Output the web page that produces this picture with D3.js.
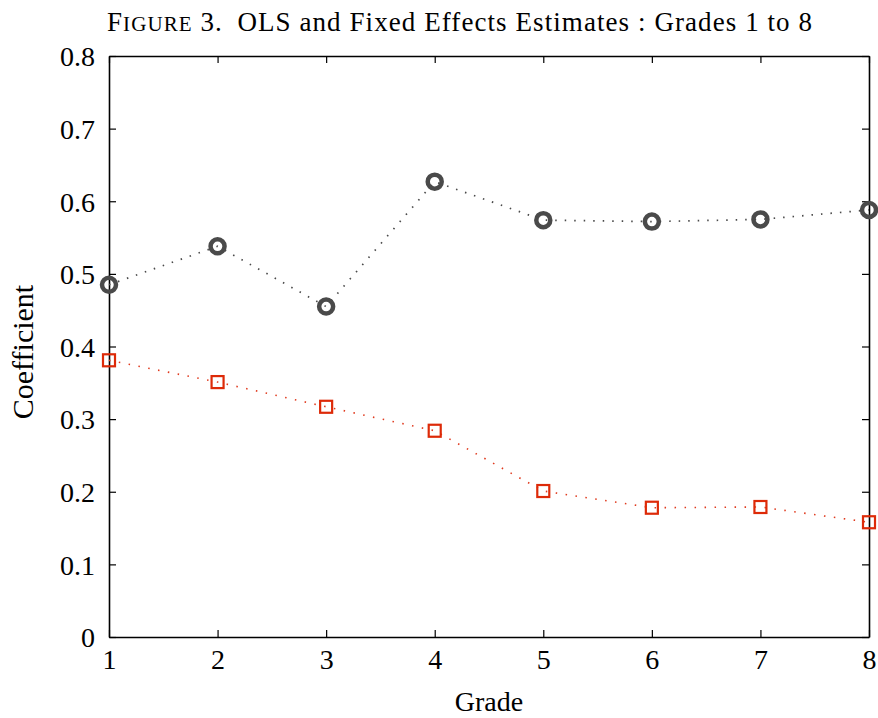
<!DOCTYPE html>
<html>
<head>
<meta charset="utf-8">
<script src="https://cdn.jsdelivr.net/npm/d3@7/dist/d3.min.js"></script>
<style>
  html, body { margin: 0; padding: 0; background: #fff; }
  text { font-family: "Liberation Serif", "Times New Roman", serif; fill: #000; }
</style>
</head>
<body>
<script>
const grades = [1, 2, 3, 4, 5, 6, 7, 8];
const olsValues = [0.485, 0.538, 0.455, 0.627, 0.574, 0.572, 0.575, 0.588];
const feValues = [0.381, 0.351, 0.317, 0.284, 0.201, 0.178, 0.179, 0.158];
const yTicks = [0, 0.1, 0.2, 0.3, 0.4, 0.5, 0.6, 0.7, 0.8];
const xTicks = [1, 2, 3, 4, 5, 6, 7, 8];

const W = 878, H = 718;
const m = { left: 109, right: 878 - 869, top: 56, bottom: 718 - 637 };

const svg = d3.select("body").append("svg").attr("width", W).attr("height", H);

const x = d3.scaleLinear().domain([1, 8]).range([m.left, W - m.right]);
const y = d3.scaleLinear().domain([0, 0.8]).range([H - m.bottom, m.top]);

const tickLen = 7;
const g = svg.append("g");

const xAxisB = d3.axisBottom(x).tickValues(xTicks).tickFormat(d3.format("d")).tickSizeInner(-tickLen).tickSizeOuter(0).tickPadding(12);
const xAxisT = d3.axisTop(x).tickValues(xTicks).tickFormat("").tickSizeInner(-tickLen).tickSizeOuter(0);
const yAxisL = d3.axisLeft(y).tickValues(yTicks).tickFormat(d => d === 0 ? "0" : d3.format(".1f")(d)).tickSizeInner(-tickLen).tickSizeOuter(0).tickPadding(14);
const yAxisR = d3.axisRight(y).tickValues(yTicks).tickFormat("").tickSizeInner(-tickLen).tickSizeOuter(0);

function style(sel) {
  sel.selectAll("path.domain").attr("stroke", "#000").attr("stroke-width", 1.6);
  sel.selectAll(".tick line").attr("stroke", "#000").attr("stroke-width", 1.2);
  sel.selectAll(".tick text").attr("font-family", "'Liberation Serif', serif").attr("font-size", 28).attr("fill", "#000");
}

g.append("g").attr("transform", `translate(0,${y(0)})`).call(xAxisB).call(style)
  .selectAll(".tick text").attr("dy", "0.71em");
g.append("g").attr("transform", `translate(0,${y(0.8)})`).call(xAxisT).call(style);
g.append("g").attr("transform", `translate(${x(1)},0)`).call(yAxisL).call(style)
  .selectAll(".tick text").attr("dy", "0.35em");
g.append("g").attr("transform", `translate(${x(8)},0)`).call(yAxisR).call(style);

const line = d3.line().x((d, i) => x(grades[i])).y(d => y(d));

svg.append("path").datum(olsValues).attr("d", line)
  .attr("fill", "none").attr("stroke", "#4a4a4a").attr("stroke-width", 1.7)
  .attr("stroke-dasharray", "1.5,8");
svg.append("path").datum(feValues).attr("d", line)
  .attr("fill", "none").attr("stroke", "#e03a1e").attr("stroke-width", 1.6)
  .attr("stroke-dasharray", "1.5,8.5");

svg.append("g").selectAll("circle").data(olsValues).join("circle")
  .attr("cx", (d, i) => x(grades[i])).attr("cy", d => y(d)).attr("r", 7)
  .attr("fill", "none").attr("stroke", "#4a4a4a").attr("stroke-width", 4.5);

const s = 12;
svg.append("g").selectAll("rect").data(feValues).join("rect")
  .attr("x", (d, i) => x(grades[i]) - s / 2).attr("y", d => y(d) - s / 2)
  .attr("width", s).attr("height", s)
  .attr("fill", "none").attr("stroke", "#dd2a08").attr("stroke-width", 2.2);

const title = svg.append("text").attr("x", 107).attr("y", 31)
  .attr("font-size", 27).attr("textLength", 705).attr("lengthAdjust", "spacing");
title.append("tspan").text("F");
title.append("tspan").attr("font-size", 21).text("IGURE");
title.append("tspan").text(" 3.\u2002OLS and Fixed Effects Estimates : Grades 1 to 8");

svg.append("text").attr("x", x(4.5)).attr("y", 711).attr("text-anchor", "middle")
  .attr("font-size", 28).text("Grade");
svg.append("text").attr("transform", `translate(33,352) rotate(-90)`)
  .attr("text-anchor", "middle").attr("font-size", 30).text("Coefficient");
</script>
</body>
</html>
